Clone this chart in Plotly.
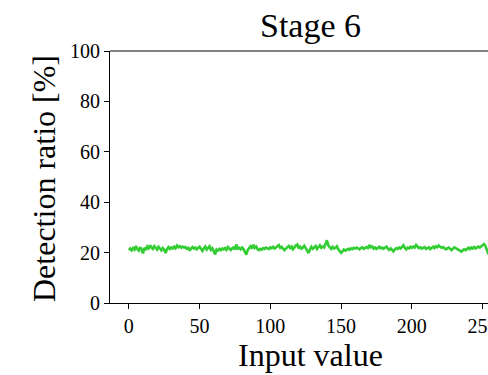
import plotly.graph_objects as go

x_values = list(range(256))
detection_ratio = [
    21.0, 21.6, 20.9, 21.8, 21.2, 22.6, 21.4, 20.8, 22.1, 21.3, 19.7, 21.9, 21.0, 22.4, 21.7, 22.9,
    22.0, 21.5, 22.6, 21.8, 21.2, 22.3, 21.6, 20.9, 21.8, 21.1, 19.8, 21.5, 22.2, 21.4, 22.0, 21.6,
    22.3, 21.7, 22.8, 22.1, 22.5, 21.9, 22.4, 22.0, 22.2, 21.5, 21.9, 20.8, 21.7, 22.2, 21.6, 22.0,
    21.3, 21.8, 22.3, 21.5, 20.7, 21.6, 22.4, 21.2, 21.9, 22.5, 21.1, 21.7, 20.6, 19.3, 21.2, 20.8,
    21.5, 21.0, 21.6, 21.3, 21.8, 21.1, 22.2, 21.4, 21.0, 21.7, 22.0, 21.2, 23.2, 21.6, 21.9, 21.3,
    22.0, 21.4, 20.5, 19.2, 21.0, 21.8, 22.5, 21.6, 23.1, 21.9, 22.4, 21.3, 21.0, 21.5, 21.2, 21.8,
    21.5, 22.0, 21.7, 21.4, 22.1, 21.8, 22.3, 21.6, 22.0, 22.4, 23.0, 21.9, 22.3, 21.5, 21.0, 21.6,
    22.1, 22.6, 21.8, 22.4, 21.3, 22.2, 22.8, 23.2, 21.7, 22.4, 21.6, 22.0, 22.7, 21.8, 20.9, 19.8,
    21.2, 22.3, 21.5, 22.0, 22.6, 21.4, 22.1, 22.9, 21.9, 22.4, 22.0, 23.6, 24.9, 22.8, 22.2, 21.5,
    22.3, 21.6, 21.9, 22.5, 21.3, 20.4, 19.9, 20.5, 21.2, 20.8, 21.0, 21.5, 21.1, 21.7, 21.4, 21.9,
    21.6, 22.0, 21.7, 21.3, 21.8, 22.1, 21.5, 21.9, 22.2, 21.8, 23.0, 22.1, 22.4, 21.6, 22.0, 21.4,
    21.9, 22.3, 21.7, 22.0, 21.5, 21.8, 22.4, 21.6, 21.1, 21.7, 20.9, 20.5, 21.3, 21.8, 21.4, 22.0,
    21.6, 22.2, 22.9, 21.8, 21.3, 22.0, 21.7, 22.3, 21.9, 22.4, 22.0, 23.0, 22.3, 21.8, 22.1, 21.6,
    21.9, 22.2, 21.5, 21.8, 22.1, 21.4, 21.9, 22.3, 21.8, 22.5, 22.1, 22.8, 22.3, 21.9, 22.2, 21.6,
    21.3, 21.7, 22.0, 21.5, 21.0, 21.6, 22.1, 21.8, 21.4, 21.0, 20.7, 20.4, 20.9, 21.3, 21.0, 21.6,
    21.9, 21.4, 22.0, 21.6, 22.2, 21.7, 21.9, 22.4, 22.0, 22.5, 23.1, 23.4, 22.6, 21.4, 19.6, 19.3,
]
x_ticks = [0, 50, 100, 150, 200, 250]
y_ticks = [0, 20, 40, 60, 80, 100]
title_text = "Stage 6"
x_title = "Input value"
y_title = "Detection ratio [%]"

FONT = "Times New Roman, Liberation Serif, serif"
W, H = 488, 375
L, R, T, B = 110, 0, 51, 72
pw = W - L - R
ph = H - T - B

fig = go.Figure()
fig.add_trace(go.Scatter(
    x=x_values, y=detection_ratio, mode="lines",
    line=dict(color="#32CD32", width=2.6), showlegend=False,
))

fig.update_layout(
    width=W, height=H, autosize=False,
    margin=dict(l=L, r=R, t=T, b=B, pad=0, autoexpand=False),
    paper_bgcolor="white", plot_bgcolor="white",
    font=dict(family=FONT, color="black"),
    xaxis=dict(
        range=[-13.3, 253.8], tickvals=x_ticks, ticktext=[str(v) for v in x_ticks],
        showgrid=False, zeroline=False, showline=True, linecolor="black", linewidth=1,
        ticks="outside", ticklen=5, tickwidth=1, tickcolor="black",
        tickfont=dict(family=FONT, size=20, color="black"),
        ticklabeloverflow="allow", automargin=False,
    ),
    yaxis=dict(
        range=[0, 100], tickvals=y_ticks, ticktext=[str(v) for v in y_ticks],
        showgrid=False, zeroline=False, showline=True, linecolor="black", linewidth=1,
        ticks="outside", ticklen=5, tickwidth=1, tickcolor="black",
        tickfont=dict(family=FONT, size=20, color="black"),
        ticklabeloverflow="allow", automargin=False,
    ),
    shapes=[dict(type="line", xref="paper", yref="paper", x0=0, x1=1, y0=1, y1=1,
                 line=dict(color="black", width=1))],
    annotations=[
        dict(text=title_text, xref="paper", yref="paper",
             x=(310 - L) / pw, y=(H - 26 - B) / ph, xanchor="center", yanchor="middle",
             showarrow=False, font=dict(family=FONT, size=34, color="black")),
        dict(text=x_title, xref="paper", yref="paper",
             x=(310 - L) / pw, y=(H - 355 - B) / ph, xanchor="center", yanchor="middle",
             showarrow=False, font=dict(family=FONT, size=32, color="black")),
        dict(text=y_title, xref="paper", yref="paper", textangle=-90,
             x=(44 - L) / pw, y=(H - 179 - B) / ph, xanchor="center", yanchor="middle",
             showarrow=False, font=dict(family=FONT, size=32, color="black")),
    ],
)

fig.write_html("out.html")
